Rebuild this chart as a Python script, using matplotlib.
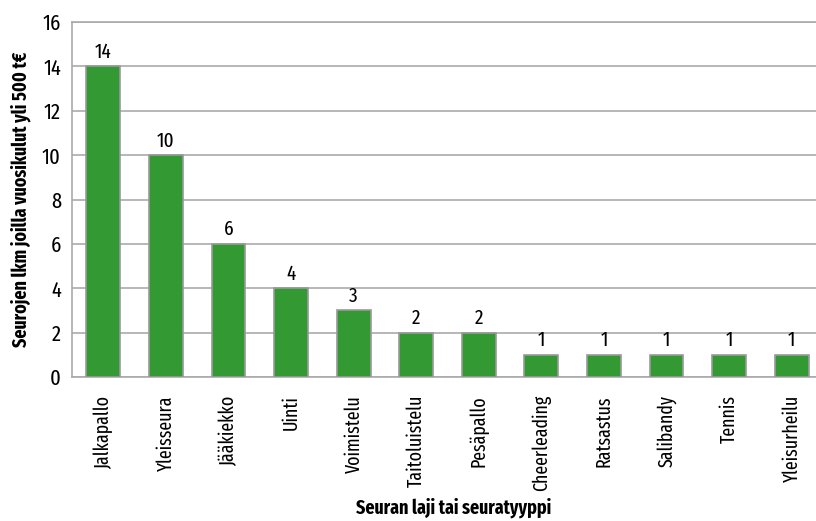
import matplotlib
matplotlib.use("Agg")
import matplotlib.pyplot as plt

plt.rcParams['font.family'] = ['Fira Sans Extra Condensed', 'DejaVu Sans']

categories = ["Jalkapallo", "Yleisseura", "Jääkiekko", "Uinti", "Voimistelu",
              "Taitoluistelu", "Pesäpallo", "Cheerleading", "Ratsastus",
              "Salibandy", "Tennis", "Yleisurheilu"]
values = [14, 10, 6, 4, 3, 2, 2, 1, 1, 1, 1, 1]
yticks = [0, 2, 4, 6, 8, 10, 12, 14, 16]

fig = plt.figure(figsize=(8.16, 5.21), dpi=100)
ax = fig.add_axes([72/816, 1-377/521, 751/816, 355/521])
x = range(len(categories))
ax.bar(x, values, width=0.54, color="#339933", edgecolor="#999999", linewidth=1.2, zorder=3)
for xi, v in zip(x, values):
    ax.text(xi, v + 0.2, str(v), ha="center", va="bottom", fontsize=15)
ax.set_xlim(-0.5, len(categories) - 0.5)
ax.set_ylim(0, 16)
ax.set_yticks(yticks)
ax.set_yticklabels([str(t) for t in yticks], fontsize=16)
ax.set_xticks(list(x))
ax.set_xticklabels(categories, rotation=90, fontsize=14)
ax.tick_params(axis="y", length=0, pad=8)
ax.tick_params(axis="x", length=0, pad=13)
ax.yaxis.grid(True, color="#aaaaaa", linewidth=1.2, zorder=0)
for s in ax.spines.values():
    s.set_color("#aaaaaa")
    s.set_linewidth(1.2)
ax.set_ylabel("Seurojen lkm joilla vuosikulut yli 500 t€", fontsize=14, fontweight="bold", labelpad=8)
fig.text(454/816, 1-508/521, "Seuran laji tai seuratyyppi", fontsize=14, fontweight="bold",
         ha="center", va="center")
fig.savefig("out.png", dpi=100)
